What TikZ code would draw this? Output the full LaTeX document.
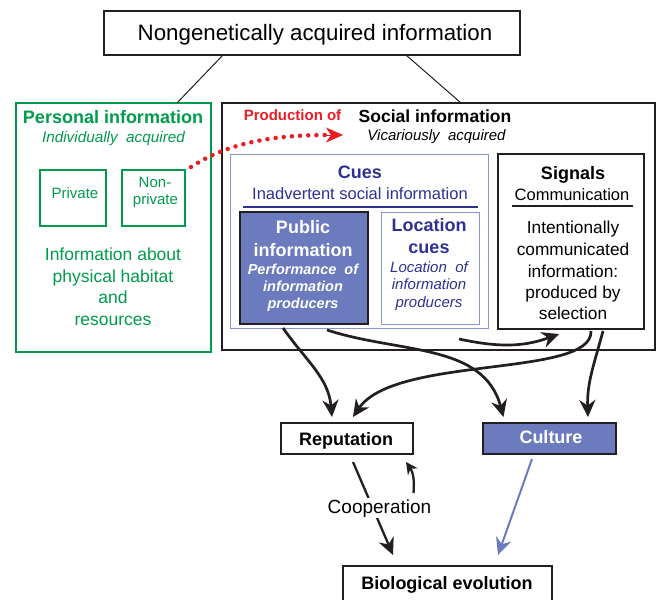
\documentclass[tikz,border=0pt]{standalone}
\usepackage{fontspec}
\setmainfont{Liberation Sans}
\usetikzlibrary{arrows.meta}
\definecolor{pgreen}{RGB}{0,155,75}
\definecolor{navy}{RGB}{46,49,146}
\definecolor{pubblue}{RGB}{107,123,189}
\definecolor{lblue}{RGB}{135,148,208}
\definecolor{pred}{RGB}{237,28,36}
\definecolor{dline}{RGB}{35,31,32}
\newcommand\fsz[1]{\fontsize{#1}{#1}\selectfont}
\begin{document}
\begin{tikzpicture}[x=1pt,y=1pt,
  box/.style={draw=dline, inner sep=0pt, outer sep=0pt, anchor=north west, line width=1.2pt},
  txt/.style={anchor=base, inner sep=0pt, outer sep=0pt},
  bigtip/.style={-{Stealth[length=17pt,width=16pt,inset=5.5pt]}},
  arr/.style={draw=dline, line width=2.7pt, bigtip},
  thin/.style={draw=dline, line width=1pt},
]
\useasboundingbox (0,0) rectangle (659,-600);

% boxes
\node[box, minimum width=416pt, minimum height=44pt] (top) at (104,-11) {};
\node[box, draw=pgreen, line width=1.5pt, minimum width=195pt, minimum height=249pt] (pers) at (16,-103) {};
\node[box, draw=pgreen, line width=1.5pt, minimum width=66pt, minimum height=56pt] (priv) at (40,-170) {};
\node[box, draw=pgreen, line width=1.5pt, minimum width=63pt, minimum height=56pt] (nonpriv) at (122,-170) {};
\node[box, minimum width=433pt, minimum height=247pt] (soc) at (222,-103) {};
\node[box, draw=lblue, line width=1pt, minimum width=258pt, minimum height=174pt] (cues) at (230,-154) {};
\node[box, fill=pubblue, line width=1.4pt, minimum width=128pt, minimum height=112pt] (pub) at (240,-212) {};
\node[box, draw=lblue, line width=1pt, minimum width=98pt, minimum height=112pt] (loc) at (381,-212) {};
\node[box, minimum width=146pt, minimum height=175pt] (sig) at (498,-154) {};
\node[box, minimum width=132pt, minimum height=31pt] (rep) at (281,-423) {};
\node[box, fill=pubblue, minimum width=133pt, minimum height=31pt] (cult) at (483,-423) {};
\node[box, minimum width=209pt, minimum height=40pt] (bio) at (343,-566) {};

% underlines
\draw[navy, line width=2pt] ([xshift=13pt,yshift=-53pt]cues.north west) coordinate (cu1) -- ([xshift=-10pt,yshift=-53pt]cues.north east) coordinate (cu2);
\draw[dline, line width=2pt] ([xshift=14pt,yshift=-52pt]sig.north west) coordinate (su1) -- ([xshift=-11pt,yshift=-52pt]sig.north east) coordinate (su2);

% top connectors
\draw[thin] ([xshift=-89pt]top.south) -- ([xshift=63.5pt]pers.north);
\draw[thin] ([xshift=94pt]top.south) -- ([xshift=22.5pt]soc.north);

% texts
\node[txt, font=\fsz{22.3}] (ttop) at (315,-40) {Nongenetically acquired information};

\node[txt, font=\fsz{18}\bfseries, text=pgreen] (tpers) at (113,-123) {Personal information};
\node[txt, font=\fsz{15.3}\itshape, text=pgreen] (tpers2) at (113.5,-142) {Individually\ \ acquired};
\node[txt, font=\fsz{15}, text=pgreen] (tpriv) at (75,-198) {Private};
\node[txt, font=\fsz{15}, text=pgreen] (tnp1) at (155,-187) {Non-};
\node[txt, font=\fsz{15}, text=pgreen] (tnp2) at (155.5,-204) {private};
\node[txt, font=\fsz{17.5}, text=pgreen] (ti1) at (113,-260) {Information about};
\node[txt, font=\fsz{17.5}, text=pgreen] (ti2) at (113,-282) {physical habitat};
\node[txt, font=\fsz{17.5}, text=pgreen] (ti3) at (113,-303) {and};
\node[txt, font=\fsz{17.5}, text=pgreen] (ti4) at (113,-325) {resources};

\node[txt, font=\fsz{15}\bfseries, text=pred] (tprod) at (292.5,-120) {Production of};
\node[txt, font=\fsz{17.5}\bfseries] (tsoc) at (435,-122) {Social information};
\node[txt, font=\fsz{15}\itshape] (tsoc2) at (436.5,-140) {Vicariously\ \ acquired};

\node[txt, font=\fsz{18}\bfseries, text=navy] (tcues) at (360,-178) {Cues};
\node[txt, font=\fsz{16.5}, text=navy] (tcues2) at (360,-199) {Inadvertent social information};

\node[txt, font=\fsz{18}\bfseries, text=white] (tpub1) at (303,-233) {Public};
\node[txt, font=\fsz{18}\bfseries, text=white] (tpub2) at (303,-256) {information};
\node[txt, font=\fsz{14.5}\bfseries\itshape, text=white] (tpub3) at (303,-274) {Performance\ \ of};
\node[txt, font=\fsz{14.5}\bfseries\itshape, text=white] (tpub4) at (303,-291) {information};
\node[txt, font=\fsz{14.5}\bfseries\itshape, text=white] (tpub5) at (303,-308) {producers};

\node[txt, font=\fsz{18}\bfseries, text=navy] (tloc1) at (429,-231) {Location};
\node[txt, font=\fsz{18}\bfseries, text=navy] (tloc2) at (429,-253) {cues};
\node[txt, font=\fsz{15}\itshape, text=navy] (tloc3) at (429,-272) {Location\ \ of};
\node[txt, font=\fsz{15}\itshape, text=navy] (tloc4) at (429,-289) {information};
\node[txt, font=\fsz{15}\itshape, text=navy] (tloc5) at (429,-307) {producers};

\node[txt, font=\fsz{18}\bfseries] (tsig1) at (573,-179) {Signals};
\node[txt, font=\fsz{16.5}] (tsig2) at (572,-200) {Communication};
\node[txt, font=\fsz{17.3}] (tsig3) at (573,-233) {Intentionally};
\node[txt, font=\fsz{17.3}] (tsig4) at (573,-255) {communicated};
\node[txt, font=\fsz{17.3}] (tsig5) at (573,-277) {information:};
\node[txt, font=\fsz{17.3}] (tsig6) at (573,-298) {produced by};
\node[txt, font=\fsz{17.3}] (tsig7) at (573,-319) {selection};

\node[txt, font=\fsz{18}\bfseries] (trep) at (346,-445) {Reputation};
\node[txt, font=\fsz{18}\bfseries, text=white] (tcult) at (551,-443) {Culture};
\node[txt, font=\fsz{18}\bfseries] (tbio) at (447,-589) {Biological evolution};

% red dotted arrow
\draw[pred, line width=4.5pt, line cap=round, dash pattern=on 0pt off 8.2pt]
  ([xshift=6pt,yshift=3pt]nonpriv.north east) .. controls (232,-140) and (282,-135) .. (328,-135) coordinate (rd);
\draw[pred, line width=1pt, -{Stealth[length=17pt,width=15pt,inset=5pt]}] ([xshift=-2pt]rd) -- ([xshift=15pt]rd);

% arrows
\draw[arr] ([xshift=-21pt,yshift=-4pt]pub.south) to[out=-55,in=95] ([xshift=-15pt,yshift=6pt]rep.north);
\draw[arr] ([xshift=23pt,yshift=-6pt]pub.south) to[out=-18,in=105] ([xshift=-46pt,yshift=6pt]cult.north);
\coordinate (c3) at (459,-339);
\draw[arr] (c3) to[out=-12,in=200] ([xshift=-12pt,yshift=-5pt]sig.south);
\draw[arr] ([xshift=20pt,yshift=-2pt]sig.south) .. controls (593,-378) and (395,-355) .. ([xshift=6pt,yshift=6pt]rep.north);
\draw[arr] ([xshift=32pt,yshift=-2pt]sig.south) to[out=-105,in=92] ([xshift=38.5pt,yshift=6pt]cult.north);

\draw[draw=dline, line width=2.3pt, bigtip] ([xshift=6pt,yshift=-8pt]rep.south) -- ([xshift=-54.5pt,yshift=11pt]bio.north);
\node[txt, font=\fsz{19}, fill=white, inner sep=1pt] (coop) at (379.5,-513) {Cooperation};
\draw[draw=dline, line width=2.3pt, -{Stealth[length=12pt,width=12pt,inset=4pt]}] ([xshift=34pt,yshift=20pt]coop.base) to[out=85,in=-55] ([xshift=-7pt,yshift=-8pt]rep.south east);

\draw[draw=pubblue, line width=2pt, bigtip] ([xshift=-17.5pt,yshift=-5pt]cult.south) -- ([xshift=50.5pt,yshift=11pt]bio.north);
\end{tikzpicture}
\end{document}
